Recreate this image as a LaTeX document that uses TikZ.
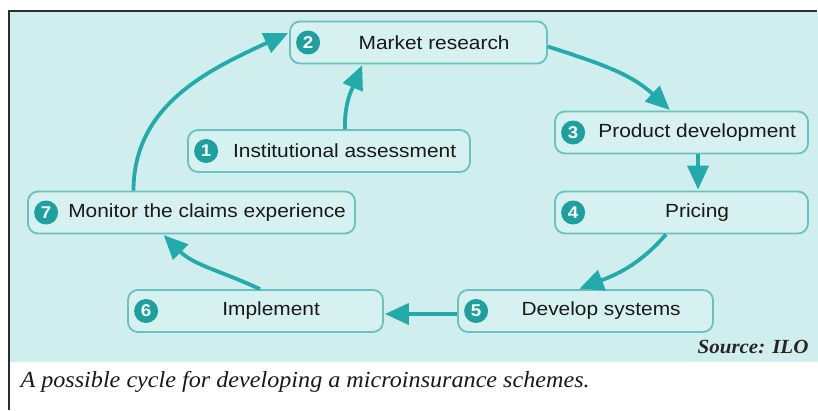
\documentclass[tikz,border=0pt]{standalone}
\usepackage{fontspec}
\setmainfont{Liberation Sans}[FakeStretch=1.1]
\newfontfamily\capfont{Liberation Serif}[FakeStretch=1.05]
\usepackage{tikz}
\usetikzlibrary{arrows.meta,calc}

\definecolor{bgcol}{RGB}{208,238,237}
\definecolor{boxfill}{RGB}{214,241,240}
\definecolor{boxline}{RGB}{104,194,191}
\definecolor{flowcol}{RGB}{34,171,170}
\definecolor{numcol}{RGB}{30,160,160}
\definecolor{framecol}{RGB}{45,45,45}

% one stage: name, x, y, width, number, text
\newcommand\stage[6]{%
  \node[stagebox,minimum width=#4] (#1) at (#2,#3) {};
  \node[num] (#1n) at ([xshift=19]#1.west) {#5};
  \node[stagetext] (#1t) at ($(#1n.east)!0.5!(#1.east)$) {#6};
}

\begin{document}
\begin{tikzpicture}[x=1pt,y=-1pt,>={Triangle[length=24pt,width=21pt]},->,
                    shorten >=1pt]

  \tikzset{stagebox/.style={rectangle,rounded corners=10pt,draw=boxline,
                            fill=boxfill,line width=1.8pt,minimum height=42pt},
           num/.style={circle,fill=numcol,text=white,minimum size=24pt,
                        inner sep=0pt,font=\bfseries\fontsize{17}{17}\selectfont},
           stagetext/.style={text=black!90,inner sep=0pt,
                             font=\fontsize{19}{21}\selectfont},
           flow/.style={color=flowcol,line width=3.8pt}}

  \useasboundingbox (0,0) rectangle (818,410);

  % panel and frame
  \fill[bgcol] (10,12) rectangle (818,362);
  \draw[-,framecol,line width=2pt] (9,410) -- (9,11) -- (818,11);

  \stage{s1}{329}{151}{282pt}{1}{Institutional assessment}
  \stage{s2}{418.5}{42.5}{257pt}{2}{Market research}
  \stage{s3}{681.5}{132.5}{253pt}{3}{Product development}
  \stage{s4}{681.5}{212.5}{253pt}{4}{Pricing}
  \stage{s5}{585.5}{311}{255pt}{5}{Develop systems}
  \stage{s6}{255.5}{311}{255pt}{6}{Implement}
  \stage{s7}{191.5}{212.5}{327pt}{7}{Monitor the claims experience}

  \path[flow]
  ([xshift=16]s1.north)     edge [out=92,in=-113]  ([xshift=-56]s2.south)
  ([xshift=-58]s7.north)    edge [out=90,in=205]   ([yshift=10]s2.west)
  ([yshift=-4]s2.east)      edge [out=-18,in=137]  ([xshift=-11]s3.north)
  ([xshift=16.5]s3.south)   edge                   ([xshift=16.5]s4.north)
  ([xshift=-15.5]s4.south)  edge [out=229,in=21]   ([xshift=-7]s5.north)
  ([yshift=-3]s5.west)      edge                   ([yshift=-3]s6.east)
  ([xshift=4.5]s6.north)    edge [out=155,in=-45]  ([xshift=-28.5]s7.south)
  ;

  \node[anchor=east,text=black!85,font=\capfont\bfseries\itshape\fontsize{20}{22}\selectfont]
    (src) at (812,347) {Source: ILO};
  \node[anchor=west,text=black!90,font=\capfont\itshape\fontsize{23}{26}\selectfont]
    (cap) at (17,382) {A possible cycle for developing a microinsurance schemes.};
\end{tikzpicture}
\end{document}
